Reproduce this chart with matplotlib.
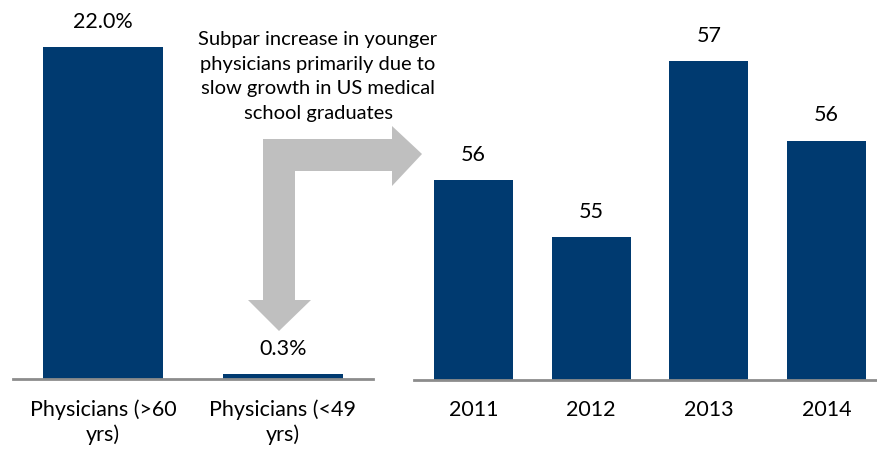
import matplotlib
matplotlib.use("Agg")
import matplotlib.pyplot as plt
from matplotlib.patches import Polygon

plt.rcParams['font.family'] = ['Lato', 'DejaVu Sans']

# Growth in physician count by age group
age_groups = ["Physicians (>60\nyrs)", "Physicians (<49\nyrs)"]
age_growth = [22.0, 0.3]

# US medical school graduates (thousands)
years = ["2011", "2012", "2013", "2014"]
graduates = [55.65, 55.0, 57.0, 56.1]

BAR = "#003A70"
AXIS = "#8C8C8C"
ARROW = "#BFBFBF"
W, H = 878, 452
FS = 15.5

fig = plt.figure(figsize=(W / 100, H / 100), dpi=100)


def fx(px):
    return px / W


def fy(py):
    return 1 - py / H


# Left panel: percentage growth
axl = fig.add_axes([fx(13), fy(379.5), fx(360), 379.5 / H])
xl = range(len(age_groups))
axl.bar(xl, age_growth, width=0.667, color=BAR)
axl.set_xlim(-0.5, len(age_groups) - 0.5)
axl.set_ylim(0, 379.5 / 15.09)
for x, v in zip(xl, age_growth):
    axl.annotate(f"{v:.1f}%", (x, v), xytext=(0, 11.5), textcoords="offset points",
                 ha="center", va="bottom", fontsize=FS)

# Right panel: graduates per year
axr = fig.add_axes([fx(414.5), fy(380.5), fx(471), 380.5 / H])
xr = range(len(years))
axr.bar(xr, graduates, width=0.67, color=BAR)
axr.set_xlim(-0.5, len(years) - 0.5)
base = 55.0 - 142 / 88
axr.set_ylim(base, base + 380.5 / 88)
for x, v in zip(xr, graduates):
    axr.annotate(f"{v:.0f}", (x, v), xytext=(0, 12), textcoords="offset points",
                 ha="center", va="bottom", fontsize=FS)

for ax, labels in ((axl, age_groups), (axr, years)):
    ax.set_xticks(list(range(len(labels))))
    ax.set_xticklabels(labels, fontsize=FS, linespacing=1.3, va="top")
    ax.tick_params(axis="x", length=0, pad=14)
    ax.set_yticks([])
    for s in ("top", "right", "left"):
        ax.spines[s].set_visible(False)
    ax.spines["bottom"].set_color(AXIS)
    ax.spines["bottom"].set_linewidth(2)
    ax.patch.set_alpha(0)
axr.spines["bottom"].set_clip_on(False)

# Bent arrow linking the two panels
pts = [(263, 140), (392, 140), (392, 127), (422, 155), (392, 187), (392, 172),
       (295, 172), (295, 301), (311, 301), (279, 332), (248, 301), (263, 301)]
fig.patches.append(Polygon([(fx(x), fy(y)) for x, y in pts], closed=True,
                           facecolor=ARROW, edgecolor="none",
                           transform=fig.transFigure, zorder=0))

fig.text(fx(318), fy(31),
         "Subpar increase in younger\nphysicians primarily due to\nslow growth in US medical\nschool graduates",
         ha="center", va="top", fontsize=14.5, linespacing=1.55)

fig.savefig("out.png", dpi=100)
